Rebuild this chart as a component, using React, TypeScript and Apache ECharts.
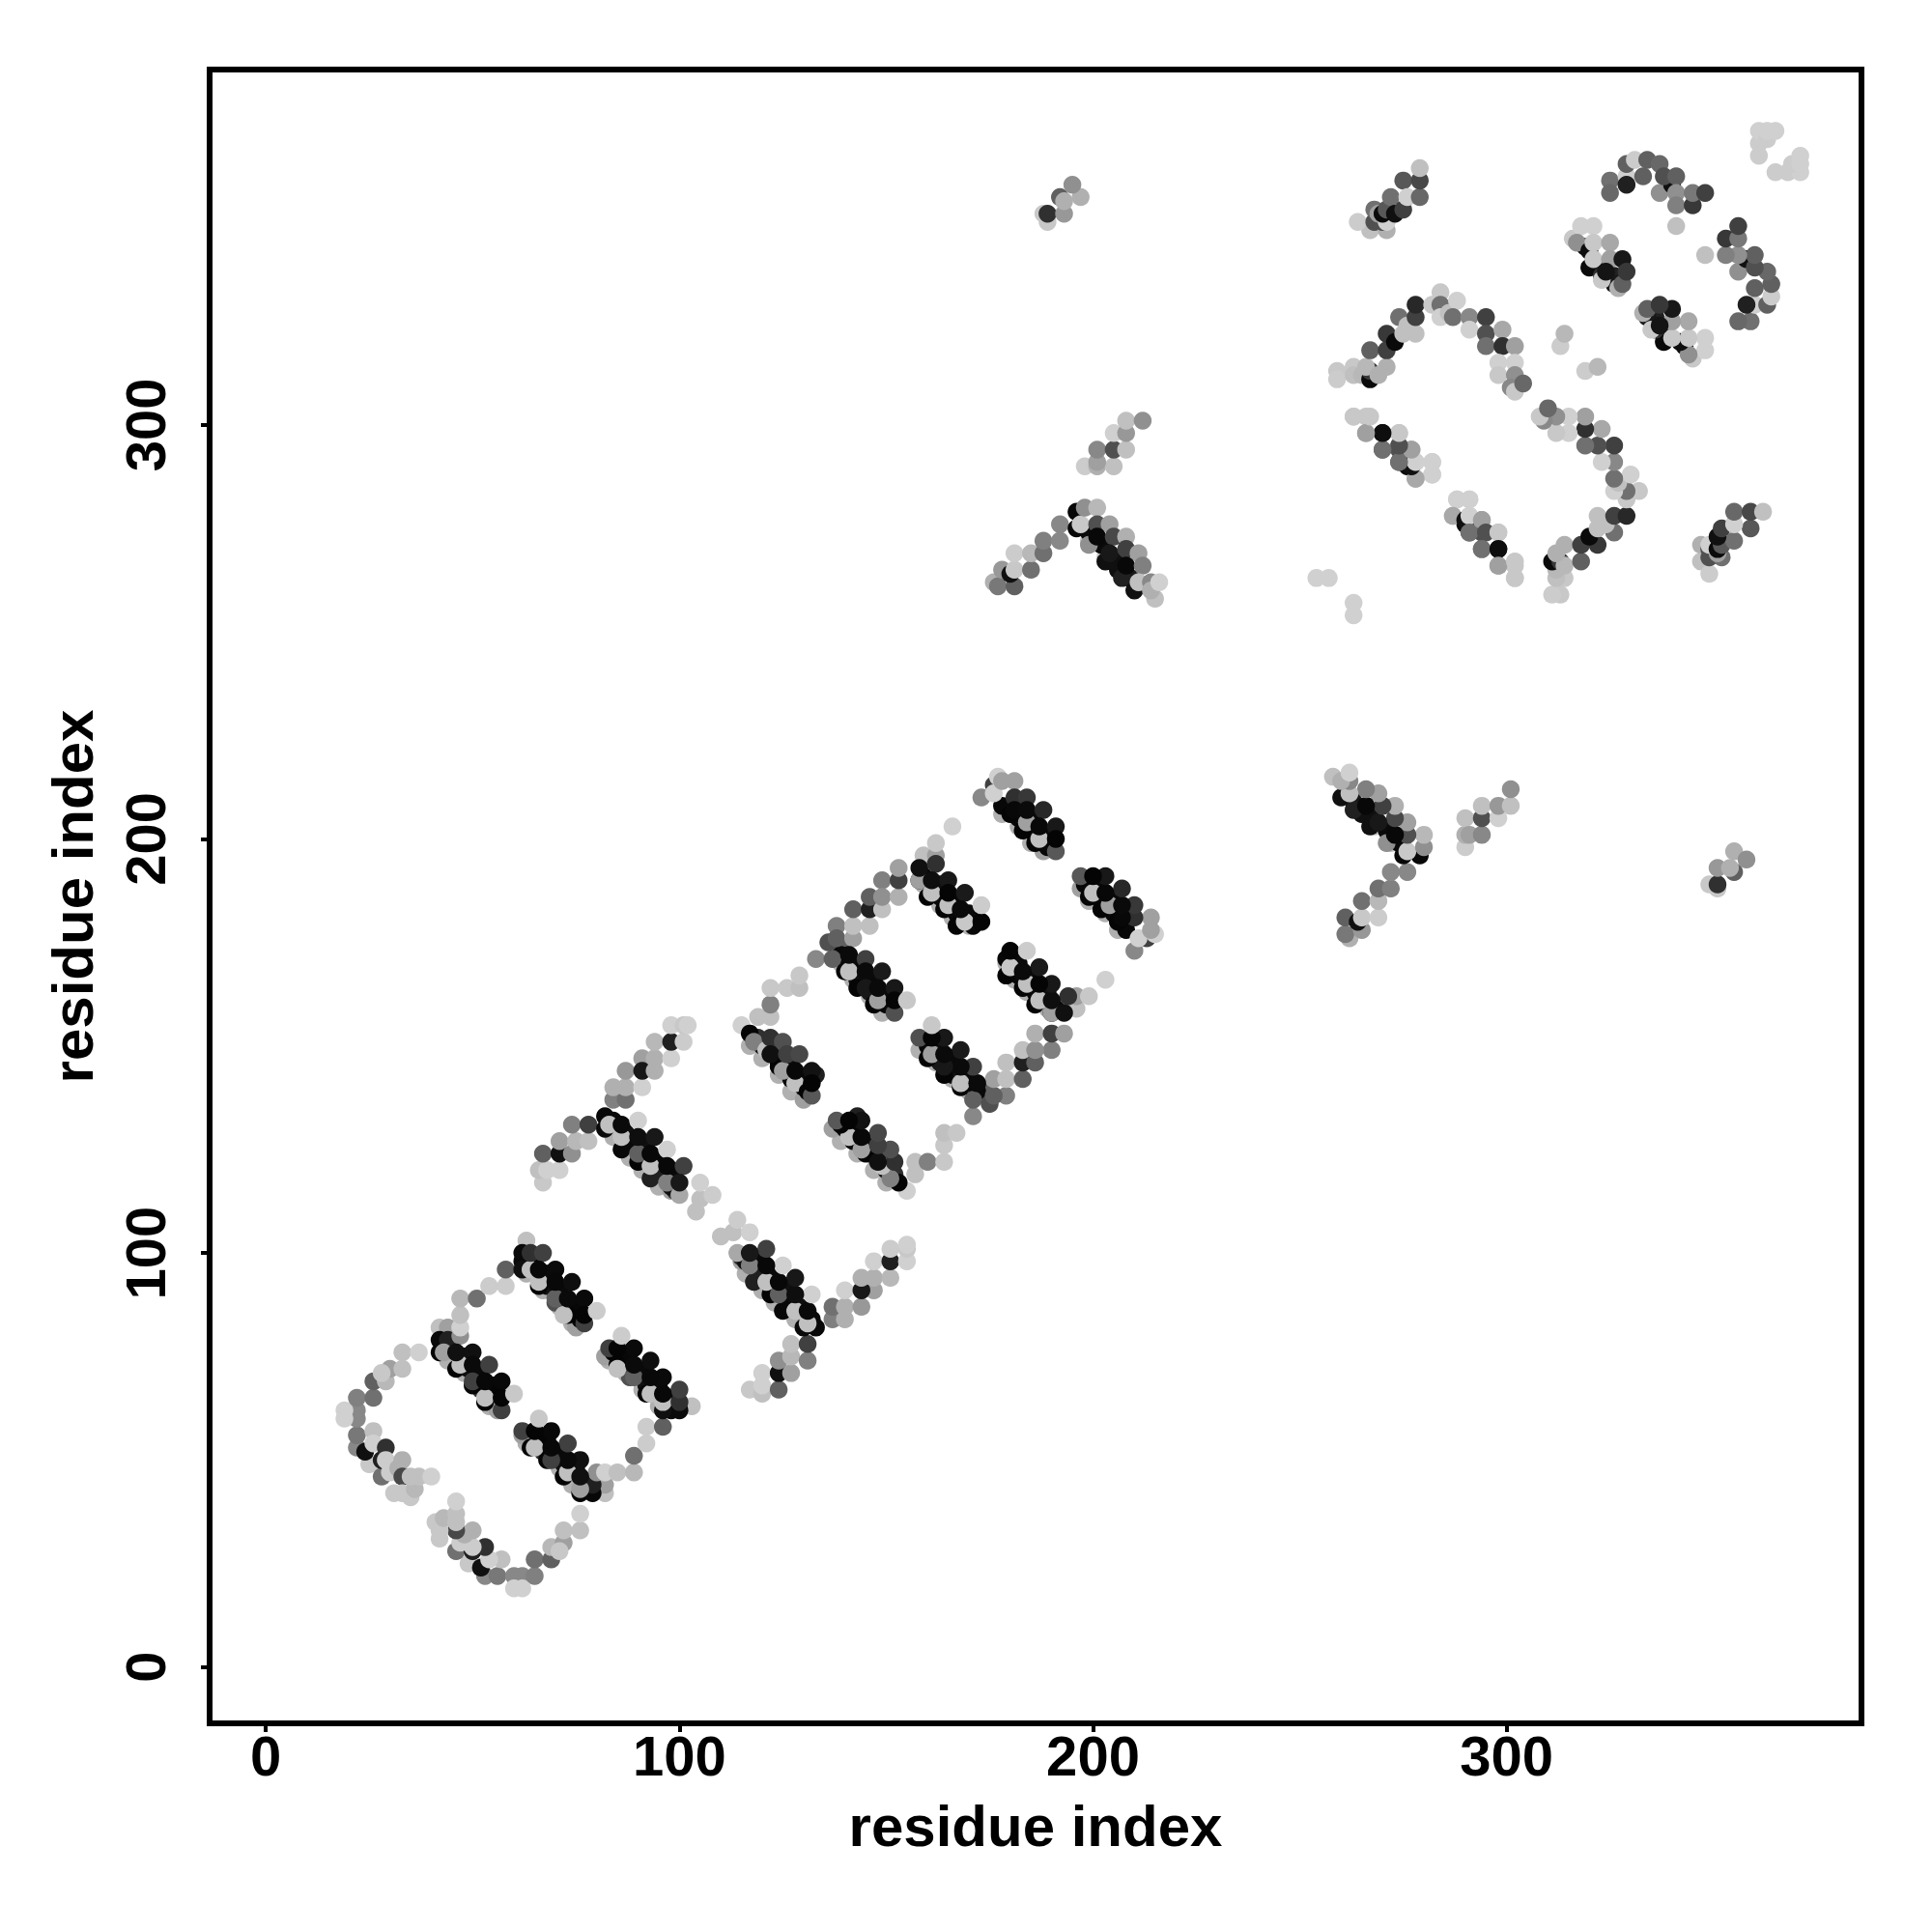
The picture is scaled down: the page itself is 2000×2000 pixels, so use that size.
import React, { useEffect, useRef } from "react";
import * as echarts from "echarts";

type P = [number, number, number];

const xTicks = [0, 100, 200, 300];
const yTicks = [0, 100, 200, 300];
const axisTitle = "residue index";

// Each point: [residue i, residue j (j > i), grey level]. The contact map is symmetric.
const cornerArc: P[] = [
  [22,53,0x88],[22,56,0x78],[22,60,0x88],[22,62,0x88],[19,62,0xd0],[19,60,0xd0],[22,65,0x80],[26,65,0x70],[26,69,0x60],[29,69,0xb8],
  [30,72,0xa0],[28,71,0xc8],[33,72,0xc0],[33,76,0xc0],[37,76,0xd0],
  [25,49,0xc8],[24,52,0x10],[26,57,0xc0],[26,54,0xd0],[28,46,0x70],[28,50,0x20],[29,53,0x30],[29,50,0xcc],[30,47,0xcc],
  [32,48,0xb0],[33,50,0xb0],[33,46,0x48],[33,42,0xc8],[31,42,0xc8],[35,41,0xc8],[36,43,0xb8],[35,46,0xc0],[37,46,0xc0],[40,46,0xd0],
];

const band1: P[] = [
  [44,74,0xb0],[48,71,0xb0],[52,67,0xb0],[54,63,0xb0],[56,62,0xa0],
  [43,78,0x08],[45,77,0x08],[48,75,0x10],[49,72,0x10],[52,71,0x0a],[52,67,0x30],[55,68,0x08],[56,66,0x05],
];

const ladder1: P[] = [
  [42,82,0xc0],[44,82,0xa0],[42,76,0x05],[42,79,0x08],[44,79,0x20],[43,76,0xa0],[46,72,0x05],[50,68,0x05],[53,64,0x05],[57,62,0x40],
  [47,73,0xc0],[47,80,0x90],[47,82,0xd0],[47,85,0xc0],[47,89,0xb8],[51,89,0x70],[54,92,0xcc],[58,92,0xcc],[58,96,0x60],
  [46,76,0x10],[50,76,0x10],[50,73,0x0a],[50,69,0x40],[54,73,0x40],[53,65,0xc0],[53,69,0x08],[57,69,0x08],[57,65,0x05],[60,66,0xc8],
];

const band2: P[] = [
  [63,95,0xb0],[67,91,0xb0],[71,87,0xb0],[74,83,0xb0],[75,82,0xa0],
  [62,98,0x0a],[65,98,0x08],[68,95,0x0a],[68,92,0x10],[71,91,0x0a],[72,87,0x30],[75,87,0x08],[76,84,0x05],
];

const ladder2: P[] = [
  [63,103,0xc0],[62,100,0x0a],[62,96,0x10],[66,92,0x05],[70,88,0x50],[73,85,0x05],[77,83,0x40],
  [64,96,0xc0],[66,93,0xc0],[72,85,0xc0],[70,89,0x60],[64,100,0x30],[67,100,0x40],[66,96,0x08],[70,96,0x0a],[70,93,0x08],
  [74,93,0x0e],[73,89,0x0a],[77,89,0x0a],[77,85,0x05],[80,86,0xcc],
];

const arm1: P[] = [
  [67,117,0xc8],[66,120,0xc0],[68,120,0xd0],[67,124,0x60],[71,120,0xd0],[71,124,0x10],[74,124,0x90],[71,127,0xa0],[75,127,0xb8],[74,131,0x80],
  [78,127,0xc0],[78,131,0x40],[84,137,0x80],[84,140,0xb0],[87,137,0x70],[87,140,0xb0],[91,140,0xd0],[87,144,0x98],[91,147,0xa0],[91,144,0x18],
  [94,144,0xb0],[94,147,0xb0],[94,151,0xb8],[98,147,0xd0],[98,151,0x20],[98,155,0xd0],[101,151,0xcc],[101,155,0xc8],[102,155,0xd0],
];

const band5: P[] = [
  [84,128,0xb0],[88,123,0xb0],[91,120,0xb0],[95,116,0xb0],[98,115,0xa0],
  [84,132,0x0a],[87,129,0x10],[88,127,0x0a],[91,126,0x10],[92,122,0x30],[95,122,0x08],[95,119,0x20],[98,120,0x0a],[99,115,0x30],
];

const ladder5: P[] = [
  [82,133,0x08],[82,130,0x0a],[86,125,0x08],[90,122,0x05],[93,118,0x20],[98,116,0x10],
  [83,131,0xc0],[86,128,0xc0],[93,121,0xc0],[90,124,0x60],[97,117,0x80],[100,114,0xa8],
  [86,131,0x0a],[90,132,0xd0],[90,128,0x0e],[94,128,0x18],[93,124,0x08],[97,125,0xd0],[97,121,0x08],[101,121,0x40],[100,117,0x18],
  [104,110,0xc0],[105,113,0xc0],[105,117,0xd0],[108,114,0xcc],
];

const band7: P[] = [
  [117,150,0xb0],[120,147,0xb0],[124,143,0xb0],[127,139,0xb0],[130,137,0xa0],
  [119,152,0x30],[120,150,0x10],[124,150,0x30],[124,146,0x0a],[127,146,0x10],[127,142,0x0a],[130,142,0x08],[130,140,0x10],[133,143,0x20],
];

const ladder7: P[] = [
  [115,155,0xd0],[117,153,0x05],[118,151,0x80],[119,157,0xc0],[122,157,0xc0],[122,160,0x80],[122,164,0xc8],[126,164,0xc8],[129,164,0xc0],[129,167,0xc8],[133,171,0x88],
  [121,149,0xc0],[124,145,0x05],[125,144,0xa0],[122,152,0x30],[125,151,0x50],[122,148,0x10],[126,148,0x40],[129,148,0x48],
  [128,141,0xc0],[131,139,0x05],[128,144,0x08],[132,144,0x12],[132,138,0x58],[132,141,0x04],
];

const band9: P[] = [
  [139,170,0xb0],[142,166,0xb0],[146,162,0xb0],[149,158,0xb0],
  [139,174,0x60],[139,172,0x08],[143,169,0x0a],[143,166,0x10],[147,166,0x0a],[146,163,0x18],[150,162,0x0a],[150,160,0x08],
];

const ladder9: P[] = [
  [137,171,0x60],[136,175,0x50],[138,179,0x80],[138,176,0x60],[140,168,0x08],[143,164,0x05],[147,160,0x05],
  [141,168,0xc0],[142,176,0xa0],[142,179,0xc0],[146,179,0xc0],[142,183,0x60],[146,183,0x20],[149,183,0xc0],[146,186,0x60],[149,190,0x80],[149,186,0x90],
  [153,186,0xb0],[153,190,0x40],[153,193,0xa0],
  [148,161,0xa0],[141,172,0x0a],[145,171,0x40],[145,168,0x0a],[149,168,0x1a],[145,164,0x18],[148,164,0x0a],[152,164,0x18],[152,158,0x50],[152,161,0x05],[155,161,0xc8],
];

const band11: P[] = [
  [159,189,0xb0],[163,184,0xb0],[166,181,0xb0],[170,179,0xb0],
  [159,191,0x0a],[163,189,0x10],[163,186,0x0a],[167,185,0x0a],[167,182,0x08],[170,182,0x0a],[171,179,0x08],
];

const ladder11: P[] = [
  [159,196,0xc0],[162,196,0xa0],[162,199,0xc8],[166,203,0xd0],[158,190,0x08],[160,186,0x05],[164,183,0x05],[167,179,0x05],
  [158,190,0xa0],[161,187,0xc0],[165,184,0xc0],[169,180,0xc8],
  [158,193,0x10],[162,194,0x30],[161,190,0x0e],[165,190,0x18],[165,187,0x05],[169,187,0x1a],[168,183,0x0a],[173,180,0x05],[173,184,0xcc],
];

const band13: P[] = [
  [178,206,0xb0],[182,203,0xb0],[185,199,0xb0],[188,197,0xa0],
  [178,208,0x08],[182,205,0x08],[185,205,0x0a],[186,201,0x0a],[189,201,0x0a],[189,198,0x08],
];

const ladder13: P[] = [
  [173,210,0x88],[176,213,0x40],[177,215,0xd0],[176,211,0xd0],[178,214,0xa0],[181,214,0xa0],[181,210,0x30],[184,210,0x38],
  [180,206,0x05],[183,202,0x05],[186,199,0x05],[184,204,0xa0],[187,200,0xc0],
  [181,207,0x08],[184,207,0x0a],[188,207,0x28],[187,203,0x08],[191,203,0x18],[191,197,0x58],[191,200,0x04],
];

const clusterA: P[] = [
  [188,351,0xc8],[189,349,0xc8],[189,351,0x30],[193,351,0x98],[192,355,0x60],[193,354,0xb0],[197,355,0xb0],[195,358,0x90],
];

const clusterB: P[] = [
  [198,290,0xcc],[201,290,0xb0],[205,290,0xc0],[201,291,0xa0],[201,294,0x88],[205,294,0x50],[208,294,0xc0],[205,298,0xd0],[208,298,0x98],[208,301,0xc0],[212,301,0x90],
];

const strandC: P[] = [
  [176,262,0xb0],[177,261,0x78],[181,261,0x60],[178,265,0x98],[180,264,0x10],[181,265,0xc8],[185,265,0x70],[181,269,0xcc],[185,269,0xb8],
  [188,269,0x70],[188,272,0x80],[192,272,0x88],[192,276,0x88],
];

const bandD: P[] = [
  [199,272,0xc0],[203,268,0xc0],
  [199,274,0x0a],[202,271,0x0a],[206,268,0x10],[206,265,0x10],[209,263,0x18],
];

const strandD: P[] = [
  [196,279,0x08],[196,275,0x08],[199,271,0x90],[203,267,0x10],[207,263,0x20],[210,260,0x10],
  [197,276,0xc8],[198,280,0x90],[201,280,0xb8],[201,276,0x50],[204,276,0xa0],[201,273,0x08],[205,273,0x48],[208,273,0xb0],
  [204,269,0x18],[208,270,0x40],[211,269,0xa0],[208,266,0x08],[212,266,0x80],[211,262,0xc0],[214,262,0x88],[215,258,0xc0],[214,260,0xb0],[216,262,0xd0],
];

const clusterE: P[] = [
  [267,347,0xc0],[264,349,0xcc],[268,349,0x50],[271,347,0xb0],[270,349,0x50],[268,352,0x70],[269,351,0xa0],[271,349,0xd0],[270,351,0x0a],
  [271,352,0x58],[272,355,0x70],[273,351,0x10],[275,352,0x40],[275,359,0x58],[276,355,0xd0],[279,355,0x68],[279,359,0x48],[279,362,0xc0],
];

const arcF: P[] = [
  [259,313,0xc8],[259,311,0xcc],[263,314,0xc8],[263,312,0xc0],[265,312,0xb8],[267,311,0x0a],[267,313,0x38],[266,314,0xb8],[271,314,0xb0],[269,312,0xb0],
  [267,318,0x60],[271,318,0x40],[271,322,0x38],[274,326,0x70],[273,320,0x0a],[275,322,0xc0],[276,324,0xc0],[278,322,0xc0],[278,326,0x40],[278,329,0x28],
  [282,329,0xc8],[284,332,0xc8],[284,329,0x70],[284,326,0xd0],[286,327,0xc0],[288,330,0xd0],[287,326,0x70],[291,326,0x88],[295,326,0x40],[291,323,0xd0],
  [295,322,0x50],[299,323,0xa8],[295,319,0x70],[299,319,0x30],[302,319,0xa0],[298,315,0xd0],[302,315,0xd0],[298,312,0xc8],[302,312,0x90],[301,309,0x88],[302,308,0xc8],[304,310,0x68],
];

const smallDots: P[] = [
  [254,263,0xd0],[257,263,0xd0],[313,319,0xcc],[314,322,0xb8],[361,365,0xcc],[361,368,0xcc],[361,371,0xd0],[363,369,0xcc],[365,371,0xd0],[363,371,0xd0],
];

const ladderG: P[] = [
  [263,302,0xc8],[266,302,0xc8],[266,298,0xa0],[270,298,0x18],[274,298,0xc0],[270,294,0x70],[274,294,0x50],[277,294,0xa8],[274,291,0x60],[276,290,0x0a],
  [278,291,0xcc],[282,291,0xd0],[282,288,0xd0],[278,287,0xb0],
];

const ladderH: P[] = [
  [288,282,0xd0],[291,282,0xd0],[287,278,0xa8],[290,277,0x10],[291,278,0xd0],[291,274,0x70],[294,277,0xa0],[295,274,0x50],[294,270,0x70],[298,274,0xc8],
  [298,270,0x0e],[298,266,0xa0],[302,267,0xc8],[302,263,0xc8],
];

const arcJ: P[] = [
  [325,359,0x70],[325,356,0x68],[329,360,0xd0],[329,358,0x20],[329,363,0x60],[331,364,0xcc],[334,364,0x60],[333,360,0x60],[337,356,0x90],[337,363,0x68],
  [340,358,0x10],[338,360,0x50],[341,360,0x60],[341,356,0x90],[341,353,0x80],[345,353,0x38],[345,356,0x78],[348,356,0x40],[341,348,0xc0],
];

const bandK: P[] = [
  [319,343,0x10],[322,338,0x14],[326,336,0x20],[326,334,0x18],
];

const ladderK: P[] = [
  [316,345,0xc8],[318,348,0xd0],[321,348,0xd0],[317,344,0x90],[320,342,0x0e],[321,344,0xc8],[320,338,0x0a],[321,340,0xc8],[325,344,0xa8],[323,336,0x30],
  [323,335,0xc8],[325,340,0xa0],[324,337,0x14],[327,333,0xb0],[328,334,0x60],[328,340,0x18],[329,337,0x38],
];

const groups: P[][] = [
  cornerArc, band1, ladder1, band2, ladder2, arm1, band5, ladder5, band7, ladder7, band9, ladder9, band11, ladder11, band13, ladder13,
  clusterA, clusterB, strandC, bandD, strandD, clusterE, arcF, smallDots, ladderG, ladderH, arcJ, bandK, ladderK,
];

const grey = (g: number) => `rgb(${g},${g},${g})`;
const fontFamily = "'Liberation Sans', Arial, sans-serif";

export default function App() {
  const ref = useRef<HTMLDivElement>(null);
  useEffect(() => {
    document.body.style.margin = "0";
    const chart = echarts.init(ref.current!, null, { renderer: "svg" });
    const text = { fontFamily, fontWeight: "bold" as const, fontSize: 58, color: "#000" };
    const axis = (ticks: number[]) => ({
      type: "value" as const,
      min: -13.6,
      max: 385.8,
      name: axisTitle,
      nameLocation: "middle" as const,
      nameTextStyle: { ...text, fontSize: 60 },
      splitLine: { show: false },
      axisLine: { show: false, onZero: false },
      axisTick: { show: true, length: 9, customValues: ticks, lineStyle: { color: "#000", width: 4 } },
    });
    chart.setOption({
      animation: false,
      backgroundColor: "#fff",
      grid: { show: true, left: 217, top: 72, width: 1710, height: 1712, borderColor: "#000", borderWidth: 6, backgroundColor: "transparent" },
      xAxis: {
        ...axis(xTicks),
        nameGap: 76,
        axisLabel: { ...text, margin: 4, customValues: xTicks },
      },
      yAxis: {
        ...axis(yTicks),
        nameGap: 112,
        nameRotate: 90,
        axisLabel: { ...text, rotate: 90, margin: 38, customValues: yTicks },
      },
      series: groups.map((pts) => ({
        type: "scatter",
        symbol: "circle",
        symbolSize: 18.5,
        silent: true,
        itemStyle: { opacity: 1 },
        data: [...pts, ...pts.map(([x, y, g]) => [y, x, g] as P)].map(([x, y, g]) => ({
          value: [x, y],
          itemStyle: { color: grey(g), opacity: 1 },
        })),
      })),
    });
    return () => chart.dispose();
  }, []);
  return <div ref={ref} style={{ width: 2000, height: 2000 }} />;
}
